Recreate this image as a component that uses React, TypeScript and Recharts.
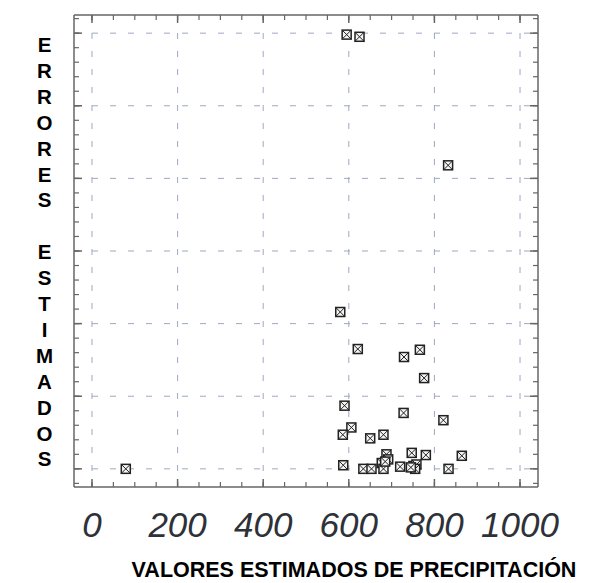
import { ScatterChart, Scatter, XAxis, YAxis, CartesianGrid } from "recharts";

// Precipitation estimates (x) vs estimated errors (y)
const precipX = [
  79, 595, 625, 832, 580, 621, 729, 766, 776, 590, 728, 821, 606, 586, 650,
  681, 688, 692, 677, 681, 747, 780, 864, 587, 634, 653, 720, 751, 758, 755,
  833, 685, 745,
];
const errorY = [
  0, 5.98, 5.95, 4.18, 2.16, 1.65, 1.54, 1.64, 1.25, 0.87, 0.77, 0.67, 0.57,
  0.47, 0.42, 0.47, 0.2, 0.13, 0.08, 0, 0.22, 0.19, 0.18, 0.05, 0, 0, 0.03,
  0.04, 0.06, 0, 0, 0.1, 0.02,
];

const xTicks = [0, 200, 400, 600, 800, 1000];
const xMinorTicks = [
  0, 50, 100, 150, 200, 250, 300, 350, 400, 450, 500, 550, 600, 650, 700, 750,
  800, 850, 900, 950, 1000,
];
const yTicks = [0, 1, 2, 3, 4, 5, 6];
const yMinorTicks = [
  -0.2, 0, 0.2, 0.4, 0.6, 0.8, 1, 1.2, 1.4, 1.6, 1.8, 2, 2.2, 2.4, 2.6, 2.8, 3,
  3.2, 3.4, 3.6, 3.8, 4, 4.2, 4.4, 4.6, 4.8, 5, 5.2, 5.4, 5.6, 5.8, 6, 6.2,
];

const yLabel = "ERRORES ESTIMADOS";
const xLabel = "VALORES ESTIMADOS DE PRECIPITACIÓN";

const X_DOMAIN: [number, number] = [-42, 1042];
const Y_DOMAIN: [number, number] = [-0.25, 6.25];

const FRAME = "#666";
const TINY = 0.01; // mirrored tick axes must not push each other inward

const data = precipX.map((x, i) => ({ x, y: errorY[i] }));

// boxed cross marker
const BoxCross = (props: any) => {
  const { cx, cy } = props;
  const s = 4.5;
  return (
    <g>
      <rect
        x={cx - s}
        y={cy - s}
        width={s * 2}
        height={s * 2}
        fill="#f4f4f4"
        stroke="#222"
        strokeWidth={1.5}
      />
      <line x1={cx - s} y1={cy - s} x2={cx + s} y2={cy + s} stroke="#222" strokeWidth={1} />
      <line x1={cx - s} y1={cy + s} x2={cx + s} y2={cy - s} stroke="#222" strokeWidth={1} />
    </g>
  );
};

const NoMark = () => <g />;

const XTickLabel = (props: any) => {
  const { x, y, payload } = props;
  return (
    <text
      x={x}
      y={y + 50}
      textAnchor="middle"
      fontFamily="Liberation Sans, Arial, sans-serif"
      fontStyle="italic"
      fontSize={35}
      fill="#2e3238"
    >
      {payload.value}
    </text>
  );
};

const YLetters = () => (
  <text
    fontFamily="Liberation Sans, Arial, sans-serif"
    fontWeight="bold"
    fontSize={20.5}
    fill="#000"
    textAnchor="middle"
  >
    {yLabel.split("").map((ch, i) => (
      <tspan key={i} x={44.5} y={52 + i * 25.9}>
        {ch === " " ? "\u00a0" : ch}
      </tspan>
    ))}
  </text>
);

const XTitle = () => (
  <text
    x={354}
    y={577}
    textAnchor="middle"
    fontFamily="Liberation Sans, Arial, sans-serif"
    fontWeight="bold"
    fontSize={21.5}
    fill="#000"
  >
    {xLabel}
  </text>
);

const tickLineMaj = { stroke: FRAME, strokeWidth: 1.5 };
const tickLineMin = { stroke: FRAME, strokeWidth: 1.2 };
const frameLine = { stroke: FRAME, strokeWidth: 1.5 };

export default function App() {
  return (
    <div style={{ position: "absolute", left: 0, top: 0, background: "#fff" }}>
      <ScatterChart
        width={600}
        height={583}
        margin={{ top: 15, right: 62, bottom: 66, left: 44 }}
      >
        <CartesianGrid
          stroke="#9ea8c2"
          strokeDasharray="6 12"
          strokeWidth={1}
          horizontalValues={yTicks}
          verticalValues={xTicks}
        />
        {/* main axes */}
        <XAxis
          dataKey="x"
          type="number"
          domain={X_DOMAIN}
          ticks={xTicks}
          allowDataOverflow
          height={30}
          tickSize={0}
          tickMargin={0}
          tickLine={false}
          axisLine={frameLine}
          tick={<XTickLabel />}
          interval={0}
          label={<XTitle />}
        />
        <YAxis
          dataKey="y"
          type="number"
          domain={Y_DOMAIN}
          ticks={yTicks}
          allowDataOverflow
          width={30}
          tickSize={0}
          tickMargin={0}
          tick={<NoMark />}
          tickLine={false}
          axisLine={frameLine}
          interval={0}
          label={<YLetters />}
        />
        {/* inward tick marks around the frame */}
        <XAxis xAxisId="bMaj" dataKey="x" type="number" orientation="bottom" mirror height={TINY} domain={X_DOMAIN} ticks={xTicks} allowDataOverflow tick={<NoMark />} tickSize={8} axisLine={false} tickLine={tickLineMaj} interval={0} />
        <XAxis xAxisId="bMin" dataKey="x" type="number" orientation="bottom" mirror height={TINY} domain={X_DOMAIN} ticks={xMinorTicks} allowDataOverflow tick={<NoMark />} tickSize={5} axisLine={false} tickLine={tickLineMin} interval={0} />
        <XAxis xAxisId="tMaj" dataKey="x" type="number" orientation="top" mirror height={TINY} domain={X_DOMAIN} ticks={xTicks} allowDataOverflow tick={<NoMark />} tickSize={8} axisLine={frameLine} tickLine={tickLineMaj} interval={0} />
        <XAxis xAxisId="tMin" dataKey="x" type="number" orientation="top" mirror height={TINY} domain={X_DOMAIN} ticks={xMinorTicks} allowDataOverflow tick={<NoMark />} tickSize={5} axisLine={false} tickLine={tickLineMin} interval={0} />
        <YAxis yAxisId="lMaj" dataKey="y" type="number" orientation="left" mirror width={TINY} domain={Y_DOMAIN} ticks={yTicks} allowDataOverflow tick={<NoMark />} tickSize={8} axisLine={false} tickLine={tickLineMaj} interval={0} />
        <YAxis yAxisId="lMin" dataKey="y" type="number" orientation="left" mirror width={TINY} domain={Y_DOMAIN} ticks={yMinorTicks} allowDataOverflow tick={<NoMark />} tickSize={5} axisLine={false} tickLine={tickLineMin} interval={0} />
        <YAxis yAxisId="rMaj" dataKey="y" type="number" orientation="right" mirror width={TINY} domain={Y_DOMAIN} ticks={yTicks} allowDataOverflow tick={<NoMark />} tickSize={8} axisLine={frameLine} tickLine={tickLineMaj} interval={0} />
        <YAxis yAxisId="rMin" dataKey="y" type="number" orientation="right" mirror width={TINY} domain={Y_DOMAIN} ticks={yMinorTicks} allowDataOverflow tick={<NoMark />} tickSize={5} axisLine={false} tickLine={tickLineMin} interval={0} />
        {/* invisible series so every tick axis gets a scale */}
        <Scatter data={data} xAxisId="bMaj" yAxisId="lMaj" shape={<NoMark />} isAnimationActive={false} />
        <Scatter data={data} xAxisId="bMin" yAxisId="lMin" shape={<NoMark />} isAnimationActive={false} />
        <Scatter data={data} xAxisId="tMaj" yAxisId="rMaj" shape={<NoMark />} isAnimationActive={false} />
        <Scatter data={data} xAxisId="tMin" yAxisId="rMin" shape={<NoMark />} isAnimationActive={false} />
        <Scatter data={data} shape={<BoxCross />} isAnimationActive={false} />
      </ScatterChart>
    </div>
  );
}
